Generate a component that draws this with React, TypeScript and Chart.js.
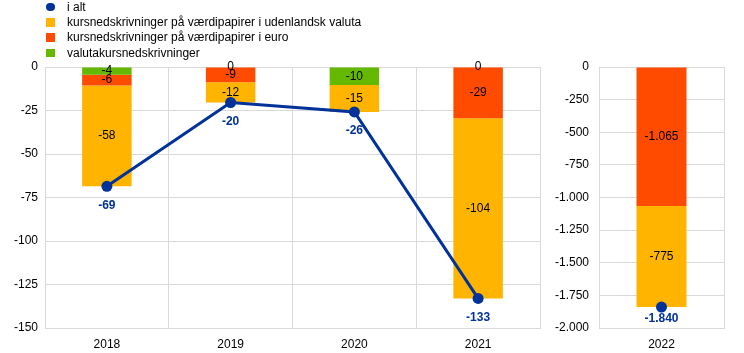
import React, { useEffect, useRef } from 'react';
import { Chart, registerables } from 'chart.js';

Chart.register(...registerables);

// ---- data ----
const leftYears = ['2018', '2019', '2020', '2021'];
const rightYears = ['2022'];

const totalLeft = [-68.6, -20.4, -25.8, -133];
const foreignLeft = [-57.9, -11.6, -15.4, -103.6];
const euroLeft = [-6.3, -8.8, null, -29.4];
const fxLeft = [-4.4, 0, -10.4, 0];

const totalRight = [-1840];
const foreignRight = [-775];
const euroRight = [-1065];
const fxRight = [null];

const leftAxis = { min: -150, max: 0, step: 25 };
const rightAxis = { min: -2000, max: 0, step: 250 };

const seriesNames = {
  total: 'i alt',
  foreign: 'kursnedskrivninger på værdipapirer i udenlandsk valuta',
  euro: 'kursnedskrivninger på værdipapirer i euro',
  fx: 'valutakursnedskrivninger',
};

// ---- styles ----
const BLUE = '#003299';
const YELLOW = '#FFB400';
const RED = '#FF4B00';
const GREEN = '#65B800';
const GRID = '#d9d9d9';
const FONT_FAMILY = 'Arial, "Liberation Sans", sans-serif';

function fmt(v: number): string {
  const r = Math.round(v);
  const s = Math.abs(r)
    .toString()
    .replace(/\B(?=(\d{3})+(?!\d))/g, '.');
  return (r < 0 ? '-' : '') + s;
}

const labelPlugin = {
  id: 'valueLabels',
  afterDatasetsDraw(chart: any, _args: any, opts: any) {
    const ctx = chart.ctx;
    chart.data.datasets.forEach((ds: any, i: number) => {
      const meta = chart.getDatasetMeta(i);
      if (meta.hidden) return;
      meta.data.forEach((el: any, j: number) => {
        const v = ds.data[j];
        if (v === null || v === undefined) return;
        ctx.save();
        ctx.textAlign = 'center';
        ctx.textBaseline = 'middle';
        if (meta.type === 'bar') {
          ctx.font = `12px ${FONT_FAMILY}`;
          ctx.fillStyle = '#000';
          ctx.fillText(fmt(v), el.x, (el.y + el.base) / 2);
        } else {
          ctx.font = `bold 12px ${FONT_FAMILY}`;
          ctx.fillStyle = BLUE;
          ctx.fillText(fmt(v), el.x, el.y + (opts.offset || 18));
        }
        ctx.restore();
      });
    });
  },
};

type PanelProps = {
  labels: string[];
  total: (number | null)[];
  foreign: (number | null)[];
  euro: (number | null)[];
  fx: (number | null)[];
  axis: { min: number; max: number; step: number };
  width: number;
  left: number;
  axisWidth: number;
  padRight: number;
  tickPad: number;
  lineOffset: number;
};

function Panel(p: PanelProps) {
  const ref = useRef<HTMLCanvasElement | null>(null);
  useEffect(() => {
    if (!ref.current) return;
    const font = { family: FONT_FAMILY, size: 12 };
    const chart = new Chart(ref.current, {
      type: 'bar',
      data: {
        labels: p.labels,
        datasets: [
          {
            type: 'line',
            label: seriesNames.total,
            data: p.total,
            borderColor: BLUE,
            backgroundColor: BLUE,
            borderWidth: 3,
            pointRadius: 5.5,
            pointHoverRadius: 5.5,
            pointBorderWidth: 0,
            stack: 'line',
            order: 0,
          } as any,
          { label: seriesNames.fx, data: p.fx, backgroundColor: GREEN, order: 1 },
          { label: seriesNames.euro, data: p.euro, backgroundColor: RED, order: 1 },
          { label: seriesNames.foreign, data: p.foreign, backgroundColor: YELLOW, order: 1 },
        ],
      },
      options: {
        animation: false,
        responsive: false,
        maintainAspectRatio: false,
        layout: { padding: { top: 67, right: p.padRight, left: 0, bottom: 0 } },
        datasets: { bar: { categoryPercentage: 1, barPercentage: 0.4 } },
        plugins: {
          legend: { display: false },
          tooltip: { enabled: false },
          valueLabels: { offset: p.lineOffset },
        } as any,
        scales: {
          x: {
            stacked: true,
            grid: { offset: true, drawTicks: false, color: GRID },
            border: { color: GRID },
            ticks: { color: '#000', font, padding: 9 },
            afterFit: (s: any) => {
              s.height = 25;
            },
          },
          y: {
            stacked: true,
            min: p.axis.min,
            max: p.axis.max,
            grid: { drawTicks: false, color: GRID },
            border: { color: GRID },
            ticks: {
              stepSize: p.axis.step,
              color: '#000',
              font,
              padding: p.tickPad,
              callback: (v: any) => fmt(Number(v)),
            },
            afterFit: (s: any) => {
              s.width = p.axisWidth;
            },
          },
        },
      } as any,
      plugins: [labelPlugin],
    });
    return () => chart.destroy();
  }, []);
  return (
    <canvas
      ref={ref}
      width={p.width}
      height={353}
      style={{ position: 'absolute', left: p.left, top: 0, width: p.width, height: 353 }}
    />
  );
}

const legendRows = [
  { text: seriesNames.total, color: BLUE, circle: true, y: 6.5 },
  { text: seriesNames.foreign, color: YELLOW, circle: false, y: 22 },
  { text: seriesNames.euro, color: RED, circle: false, y: 37 },
  { text: seriesNames.fx, color: GREEN, circle: false, y: 52.5 },
];

export default function App() {
  return (
    <div
      style={{
        position: 'fixed',
        left: 0,
        top: 0,
        width: 744,
        height: 353,
        background: '#fff',
        overflow: 'hidden',
      }}
    >
      <Panel
        labels={leftYears}
        total={totalLeft}
        foreign={foreignLeft}
        euro={euroLeft}
        fx={fxLeft}
        axis={leftAxis}
        width={548}
        left={0}
        axisWidth={45}
        padRight={8}
        tickPad={7}
        lineOffset={19}
      />
      <Panel
        labels={rightYears}
        total={totalRight}
        foreign={foreignRight}
        euro={euroRight}
        fx={fxRight}
        axis={rightAxis}
        width={196}
        left={548}
        axisWidth={51}
        padRight={20}
        tickPad={10}
        lineOffset={12}
      />
      {legendRows.map((r) => (
        <div key={r.text}>
          <div
            style={{
              position: 'absolute',
              left: 46,
              top: r.y - 4,
              width: 8.5,
              height: 8.5,
              background: r.color,
              borderRadius: r.circle ? '50%' : 0,
            }}
          />
          <div
            style={{
              position: 'absolute',
              left: 67,
              top: r.y - 7,
              height: 14,
              lineHeight: '14px',
              fontSize: 12,
              fontFamily: FONT_FAMILY,
              color: '#000',
              whiteSpace: 'nowrap',
            }}
          >
            {r.text}
          </div>
        </div>
      ))}
    </div>
  );
}
